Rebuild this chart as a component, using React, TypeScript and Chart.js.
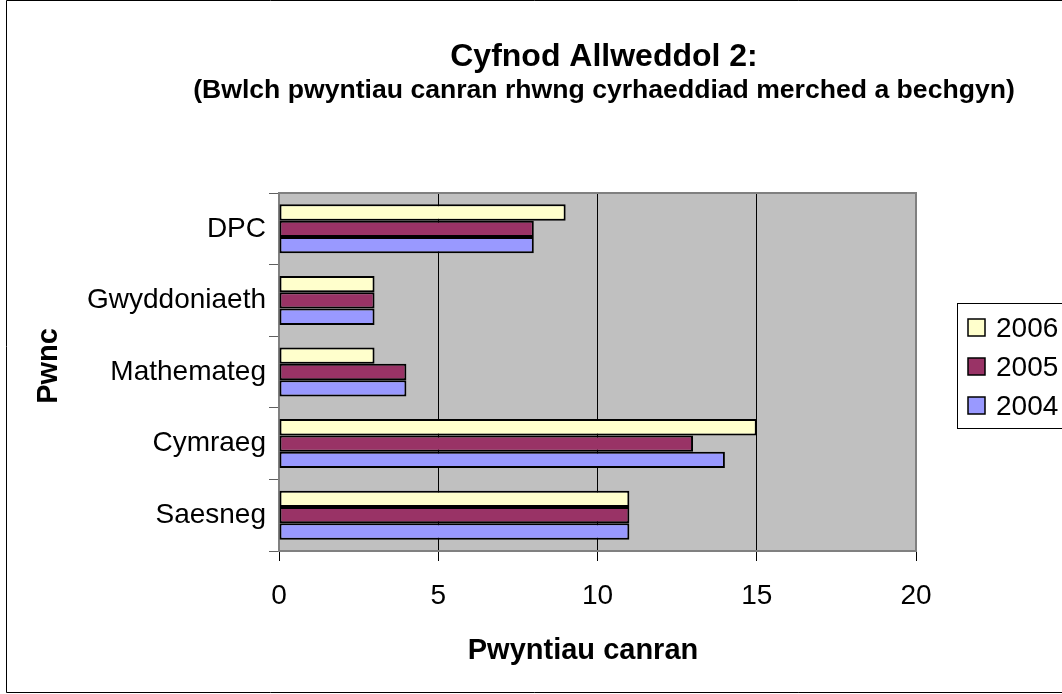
import React, { useEffect, useRef } from "react";
import { Chart, registerables } from "chart.js";

Chart.register(...registerables);

// ---- data ----
const categories = ["DPC", "Gwyddoniaeth", "Mathemateg", "Cymraeg", "Saesneg"];
const seriesNames = ["2006", "2005", "2004"];
const values2006 = [9, 3, 3, 15, 11];
const values2005 = [8, 3, 4, 13, 11];
const values2004 = [8, 3, 4, 14, 11];
const xTickValues = [0, 5, 10, 15, 20];
const seriesColors = ["#FFFFCC", "#993366", "#9999FF"];
const titleText = "Cyfnod Allweddol 2:";
const subtitleText = "(Bwlch pwyntiau canran rhwng cyrhaeddiad merched a bechgyn)";
const xTitleText = "Pwyntiau canran";
const yTitleText = "Pwnc";

const FONT = "'Liberation Sans', Arial, Helvetica, sans-serif";

const decorPlugin = {
  id: "decor",
  beforeDraw(chart: any) {
    const { ctx, chartArea: a, width, height } = chart;
    ctx.save();
    ctx.fillStyle = "#FFFFFF";
    ctx.fillRect(0, 0, width, height);
    ctx.fillStyle = "#C0C0C0";
    ctx.fillRect(a.left, a.top, a.right - a.left, a.bottom - a.top);
    ctx.restore();
  },
  afterDraw(chart: any) {
    const { ctx, chartArea: a, width, height } = chart;
    ctx.save();
    // plot area top / right border
    ctx.strokeStyle = "#808080";
    ctx.lineWidth = 2;
    ctx.beginPath();
    ctx.moveTo(a.left, a.top);
    ctx.lineTo(a.right, a.top);
    ctx.lineTo(a.right, a.bottom);
    ctx.stroke();

    // outer chart border
    ctx.strokeStyle = "#000000";
    ctx.lineWidth = 1;
    ctx.beginPath();
    ctx.moveTo(width + 5, 0.5);
    ctx.lineTo(6.5, 0.5);
    ctx.lineTo(6.5, height - 1.5);
    ctx.lineTo(width + 5, height - 1.5);
    ctx.stroke();

    // titles
    ctx.fillStyle = "#000000";
    ctx.textAlign = "center";
    ctx.textBaseline = "alphabetic";
    ctx.font = `bold 32px ${FONT}`;
    ctx.fillText(titleText, 604, 66);
    ctx.font = `bold 26.6px ${FONT}`;
    ctx.fillText(subtitleText, 604, 98);
    ctx.font = `bold 29px ${FONT}`;
    ctx.fillText(xTitleText, 583, 659);
    ctx.save();
    ctx.translate(57, 366);
    ctx.rotate(-Math.PI / 2);
    ctx.fillText(yTitleText, 0, 0);
    ctx.restore();

    // legend
    const lx = 957;
    const ly = 303;
    ctx.fillStyle = "#FFFFFF";
    ctx.fillRect(lx, ly, width - lx + 10, 125);
    ctx.strokeStyle = "#000000";
    ctx.lineWidth = 1;
    ctx.strokeRect(lx + 0.5, ly + 0.5, width - lx + 10, 125);
    ctx.font = `28px ${FONT}`;
    ctx.textAlign = "left";
    ctx.textBaseline = "alphabetic";
    chart.data.datasets.forEach((ds: any, i: number) => {
      const cy = 327 + i * 39;
      ctx.fillStyle = ds.backgroundColor;
      ctx.fillRect(968, cy - 8, 17, 17);
      ctx.strokeStyle = "#000000";
      ctx.lineWidth = 1.5;
      ctx.strokeRect(968, cy - 8, 17, 17);
      ctx.fillStyle = "#000000";
      ctx.fillText(ds.label, 996, cy + 10);
    });
    ctx.restore();
  },
};

export default function App() {
  const canvasRef = useRef<HTMLCanvasElement | null>(null);

  useEffect(() => {
    document.body.style.margin = "0";
    const canvas = canvasRef.current;
    if (!canvas) return;
    const seriesValues = [values2006, values2005, values2004];
    const chart = new Chart(canvas, {
      type: "bar",
      data: {
        labels: categories,
        datasets: seriesNames.map((name, i) => ({
          label: name,
          data: seriesValues[i],
          backgroundColor: seriesColors[i],
          borderColor: "#000000",
          borderWidth: 2,
          borderSkipped: false,
          categoryPercentage: 0.684,
          barPercentage: 1.0,
        })),
      },
      options: {
        indexAxis: "y",
        responsive: false,
        animation: false,
        devicePixelRatio: 1,
        layout: { padding: { left: 0, top: 193, right: 146, bottom: 0 } },
        plugins: {
          legend: { display: false },
          title: { display: false },
          tooltip: { enabled: false },
        },
        scales: {
          x: {
            type: "linear",
            min: 0,
            max: 20,
            afterBuildTicks: (s: any) => {
              s.ticks = xTickValues.map((v) => ({ value: v }));
            },
            afterFit: (s: any) => {
              s.height = 143;
            },
            grid: {
              color: (c: any) =>
                c.tick && (c.tick.value === 0 || c.tick.value === 20) ? "rgba(0,0,0,0)" : "#000000",
              lineWidth: 1,
              drawTicks: true,
              tickLength: 10,
              tickColor: "#000000",
              tickWidth: 1,
            },
            border: { display: true, color: "#808080", width: 2 },
            ticks: {
              font: { family: FONT, size: 28 },
              color: "#000000",
              padding: 18,
              maxRotation: 0,
            },
          },
          y: {
            type: "category",
            afterFit: (s: any) => {
              s.width = 279;
            },
            grid: {
              drawOnChartArea: false,
              drawTicks: true,
              tickLength: 10,
              tickColor: "#606060",
              tickWidth: 1,
              offset: true,
            },
            border: { display: true, color: "#808080", width: 2 },
            ticks: {
              font: { family: FONT, size: 28 },
              color: "#000000",
              padding: 3,
            },
          },
        },
      },
      plugins: [decorPlugin],
    } as any);
    return () => chart.destroy();
  }, []);

  return (
    <div style={{ position: "absolute", left: 0, top: 0, width: 1062, height: 694 }}>
      <canvas ref={canvasRef} width={1062} height={694} style={{ display: "block" }} />
    </div>
  );
}
